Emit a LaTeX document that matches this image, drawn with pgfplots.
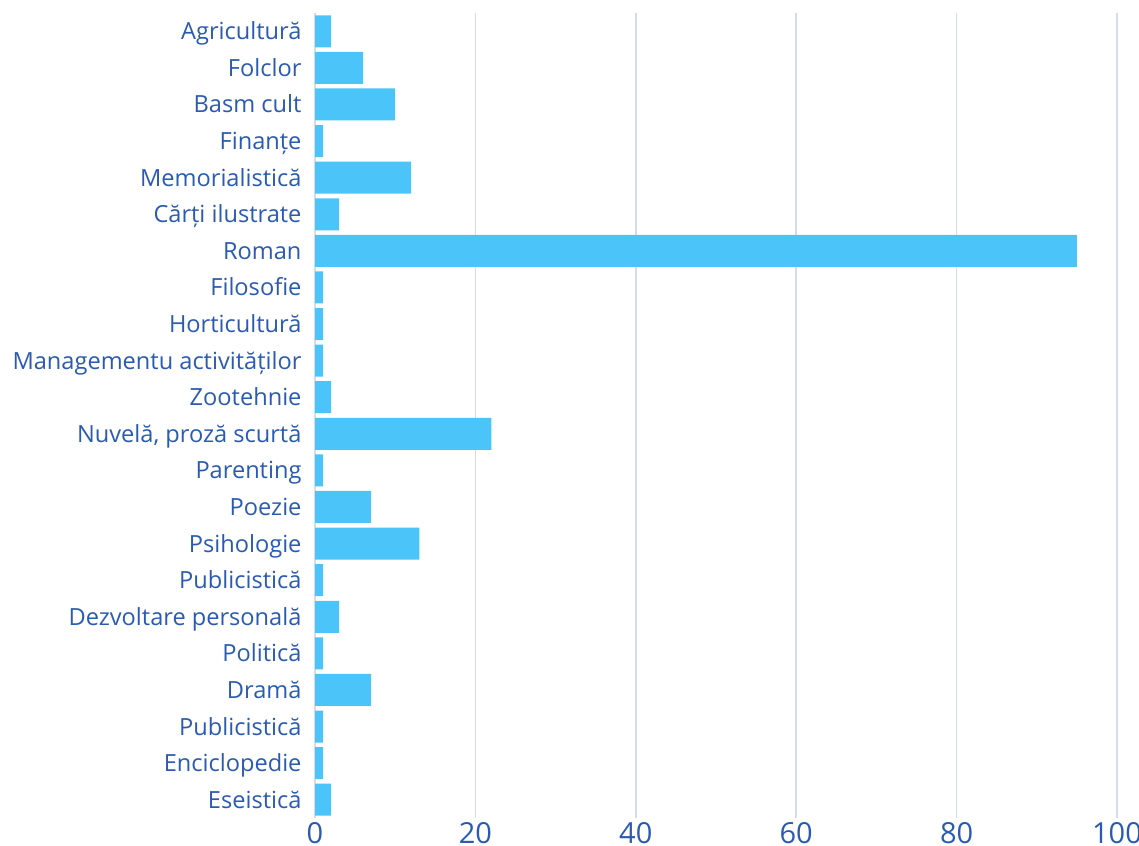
\documentclass[border=0pt]{standalone}
\usepackage{pgfplots}
\pgfplotsset{compat=1.18}
\usepackage{fontspec}
\setmainfont{Open Sans}
\definecolor{barc}{HTML}{4BC4F9}
\definecolor{labc}{HTML}{2A5AB2}
\definecolor{gridc}{HTML}{D4DDF0}
\begin{document}
\begin{tikzpicture}
\begin{axis}[
  at={(315pt,27pt)}, anchor=south west,
  scale only axis, width=802pt, height=805pt,
  xbar, bar width=32pt,
  xmin=0, xmax=100, ymin=-0.5, ymax=21.5, y dir=reverse,
  xtick={0,20,40,60,80,100},
  ytick={0,...,21},
  yticklabels={Agricultură\hspace{4pt}, Folclor, Basm cult, Finanțe\hspace{4pt}, Memorialistică, Cărți ilustrate, Roman, Filosofie, Horticultură\hspace{4pt}, Managementu activităților\hspace{4pt}, Zootehnie\hspace{4pt}, {Nuvelă, proză scurtă}, Parenting, Poezie, Psihologie, Publicistică, Dezvoltare personală, Politică\hspace{4pt}, Dramă, Publicistică\hspace{4pt}, Enciclopedie, Eseistică},
  axis line style={draw=none},
  major tick length=0pt,
  xmajorgrids, ymajorgrids=false,
  grid style={color=gridc, line width=1.6pt},
  /pgf/number format/assume math mode=true,
  yticklabel style={font=\fontsize{23.6}{27}\selectfont, text=labc, anchor=base east, yshift=-8.5pt, xshift=-10pt},
  xticklabel style={font=\fontsize{29}{33}\selectfont, text=labc, anchor=base, yshift=-25pt},
]
\addplot[fill=barc, draw=none] coordinates {
(2,0) (6,1) (10,2) (1,3) (12,4) (3,5) (95,6) (1,7) (1,8) (1,9) (2,10)
(22,11) (1,12) (7,13) (13,14) (1,15) (3,16) (1,17) (7,18) (1,19) (1,20) (2,21)};
\end{axis}
\pgfresetboundingbox
\path[use as bounding box] (0,0) rectangle (1139pt,845pt);
\end{tikzpicture}
\end{document}
